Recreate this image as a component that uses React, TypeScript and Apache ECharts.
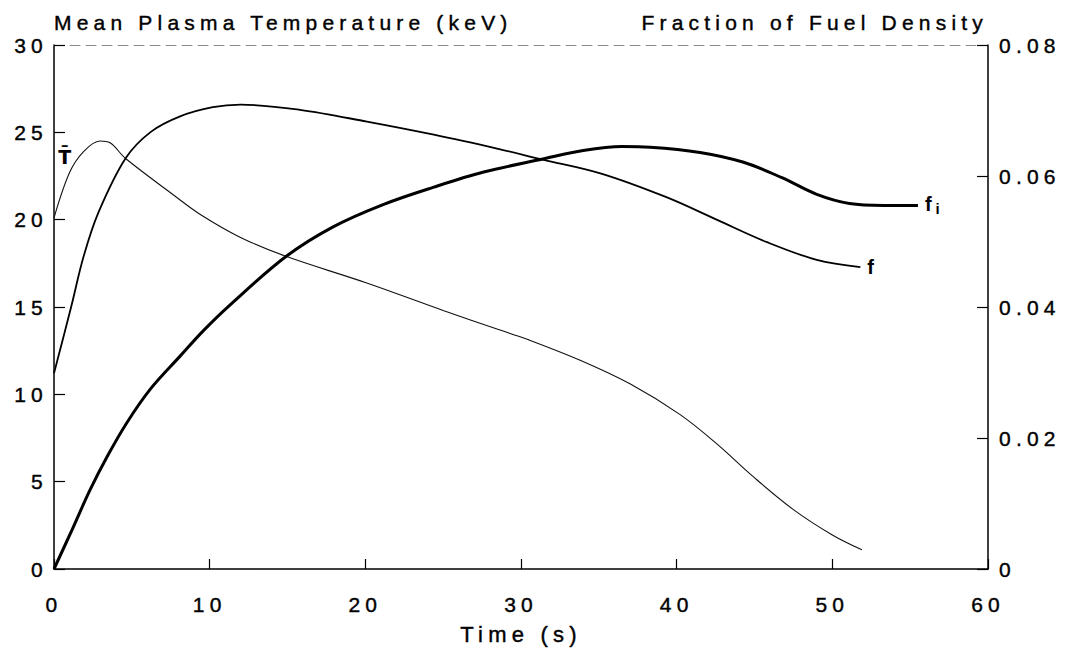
import React, { useEffect, useRef } from "react";
import * as echarts from "echarts";

// Mean plasma temperature (keV), left axis
const tempTime = [0, 1.0, 1.9, 2.95, 3.6, 4.6, 7.7, 9.4, 11.95, 14.9, 20, 25, 28.6, 30.4, 33.8, 37, 40.2, 42.6, 44.9, 47.5, 50, 51.9];
const tempValues = [20.1, 22.7, 23.9, 24.5, 24.4, 23.5, 21.4, 20.3, 19.0, 17.9, 16.4, 14.8, 13.7, 13.15, 11.95, 10.6, 8.85, 7.15, 5.3, 3.4, 1.95, 1.1];

// Fraction of fuel density f, right axis
const fTime = [0, 1.1, 1.9, 2.85, 4.6, 6.2, 8.1, 10.2, 12, 15.8, 20.1, 24.4, 28.6, 31.4, 35.1, 39.3, 42.6, 45.8, 49, 51.8];
const fValues = [0.0299, 0.04, 0.0477, 0.0544, 0.0627, 0.0667, 0.0691, 0.0705, 0.0709, 0.0701, 0.0683, 0.0663, 0.0641, 0.0625, 0.0604, 0.0568, 0.0533, 0.0499, 0.0472, 0.0461];

// Fraction f_i, right axis
const fiTime = [0, 1.24, 2.3, 3.4, 4.67, 6.2, 8.1, 9.6, 11.3, 14.9, 17.9, 21.1, 24.4, 27.6, 31.4, 34, 36.5, 38.3, 41.5, 44.3, 46.8, 49, 51.1, 53.3, 55.5];
const fiValues = [0, 0.0064, 0.012, 0.0171, 0.0223, 0.0275, 0.0325, 0.0364, 0.0403, 0.0477, 0.0522, 0.0556, 0.0583, 0.0606, 0.0626, 0.0639, 0.0645, 0.0644, 0.0636, 0.0621, 0.0597, 0.0572, 0.0558, 0.0555, 0.0555];

const FONT = "'Liberation Sans', Arial, Helvetica, sans-serif";
const pairs = (xs: number[], ys: number[]) => xs.map((x, i) => [x, ys[i]]);

export default function App() {
  const ref = useRef<HTMLDivElement>(null);

  useEffect(() => {
    if (!ref.current) return;
    const chart = echarts.init(ref.current, null, { renderer: "svg" });
    const axisText = {
      color: "#000",
      fontFamily: FONT,
      fontSize: 21,
      textBorderColor: "#000",
      textBorderWidth: 0.4,
    };
    const blackLine = { color: "#000", width: 1.5 };
    const curve = { type: "line", showSymbol: false, smooth: 0.35 };
    chart.setOption({
      animation: false,
      backgroundColor: "#fff",
      textStyle: { fontFamily: FONT, color: "#000" },
      grid: { left: 54, right: 79, top: 45, bottom: 84, containLabel: false },
      xAxis: [
        {
          type: "value",
          position: "bottom",
          min: 0,
          max: 60,
          interval: 10,
          axisLine: { show: true, onZero: false, lineStyle: blackLine },
          axisTick: { show: true, inside: true, length: 10, lineStyle: { color: "#000", width: 1.2 } },
          axisLabel: { ...axisText, margin: 25 },
          splitLine: { show: false },
          name: "Time (s)",
          nameLocation: "middle",
          nameGap: 65,
          nameTextStyle: { ...axisText, fontSize: 22, verticalAlign: "middle" },
        },
        {
          type: "value",
          position: "top",
          min: 0,
          max: 60,
          axisLine: { show: true, onZero: false, lineStyle: { color: "#8a8a8a", width: 1, type: [10, 6] } },
          axisTick: { show: false },
          axisLabel: { show: false },
          splitLine: { show: false },
        },
      ],
      yAxis: [
        {
          type: "value",
          position: "left",
          min: 0,
          max: 30,
          interval: 5,
          axisLine: { show: true, onZero: false, lineStyle: blackLine },
          axisTick: { show: true, inside: true, length: 11, lineStyle: { color: "#000", width: 1.2 } },
          axisLabel: { ...axisText, margin: 6 },
          splitLine: { show: false },
          name: "Mean Plasma Temperature (keV)",
          nameLocation: "end",
          nameGap: 23,
          nameTextStyle: { ...axisText, align: "left", verticalAlign: "middle" },
        },
        {
          type: "value",
          position: "right",
          min: 0,
          max: 0.08,
          interval: 0.02,
          axisLine: { show: true, onZero: false, lineStyle: blackLine },
          axisTick: { show: true, inside: true, length: 11, lineStyle: { color: "#000", width: 1.2 } },
          axisLabel: {
            ...axisText,
            margin: 11,
            formatter: (v: number) => (v === 0 ? "0" : v.toFixed(2)),
          },
          splitLine: { show: false },
          name: "Fraction of Fuel Density",
          nameLocation: "end",
          nameGap: 23,
          nameTextStyle: { ...axisText, align: "right", verticalAlign: "middle" },
        },
      ],
      series: [
        {
          ...curve,
          name: "T",
          yAxisIndex: 0,
          data: pairs(tempTime, tempValues),
          lineStyle: { color: "#111", width: 1.1 },
          markPoint: {
            silent: true,
            symbol: "rect",
            symbolSize: 1,
            itemStyle: { color: "rgba(0,0,0,0)" },
            data: [
              {
                coord: [0.85, 23.6],
                label: {
                  show: true,
                  position: "inside",
                  formatter: "T\u0304",
                  color: "#000",
                  fontFamily: "'DejaVu Sans', sans-serif",
                  fontWeight: "bold",
                  fontSize: 19,
                },
              },
            ],
          },
        },
        {
          ...curve,
          name: "f",
          yAxisIndex: 1,
          data: pairs(fTime, fValues),
          lineStyle: { color: "#000", width: 1.8 },
          endLabel: {
            show: true,
            formatter: "f",
            distance: 7,
            color: "#000",
            fontFamily: FONT,
            fontWeight: "bold",
            fontSize: 20,
          },
        },
        {
          ...curve,
          name: "fi",
          yAxisIndex: 1,
          data: pairs(fiTime, fiValues),
          lineStyle: { color: "#000", width: 3 },
          endLabel: {
            show: true,
            distance: 7,
            formatter: "{a|f}{b|i}",
            rich: {
              a: { fontFamily: FONT, fontWeight: "bold", fontSize: 20, lineHeight: 22, verticalAlign: "top", color: "#000" },
              b: { fontFamily: FONT, fontWeight: "bold", fontSize: 15, lineHeight: 18, padding: [10, 0, 0, 4], verticalAlign: "bottom", color: "#000" },
            },
          },
        },
      ],
    });
    return () => chart.dispose();
  }, []);

  return (
    <>
      <style>{"#fuel-chart svg text { letter-spacing: 5.2px; }"}</style>
      <div
        id="fuel-chart"
        ref={ref}
        style={{ position: "absolute", left: 0, top: 0, width: 1067, height: 653, background: "#fff" }}
      />
    </>
  );
}
